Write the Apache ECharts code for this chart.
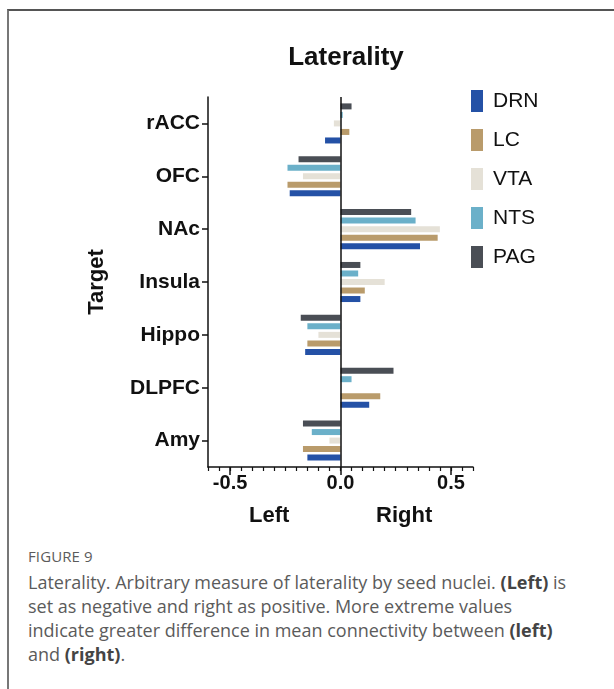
<!DOCTYPE html>
<html>
<head>
<meta charset="utf-8">
<script src="https://cdn.jsdelivr.net/npm/echarts@6/dist/echarts.min.js"></script>
<style>
  html, body { margin: 0; padding: 0; background: #fff; }
  #page { position: relative; width: 614px; height: 689px; overflow: hidden; }
  #frame { position: absolute; left: 7px; top: 9px; width: 620px; height: 700px;
           border-top: 2px solid #555; border-left: 2px solid #777; }
  #chart { position: absolute; left: 0; top: 0; width: 614px; height: 540px; }
  #caption { position: absolute; left: 28px; top: 546px; width: 586px;
             font-family: "Open Sans", Lato, sans-serif; color: #5b5b5b; }
  #caption .fig { font-size: 15px; letter-spacing: 0.1px; margin-bottom: 4px; }
  #caption .txt { font-size: 18px; line-height: 24px; }
  #caption b { color: #444; font-weight: 700; }
</style>
</head>
<body>
<div id="page">
  <div id="frame"></div>
  <div id="chart"></div>
  <div id="caption">
    <div class="fig">FIGURE 9</div>
    <div class="txt">Laterality. Arbitrary measure of laterality by seed nuclei. <b>(Left)</b> is<br>set as negative and right as positive. More extreme values<br>indicate greater difference in mean connectivity between <b>(left)</b><br>and <b>(right)</b>.</div>
  </div>
</div>
<script>
// 靶区（从上到下）
var targets = ["rACC", "OFC", "NAc", "Insula", "Hippo", "DLPFC", "Amy"];

// 各种子核的偏侧性数值
var drn = [-0.07, -0.23, 0.36, 0.09, -0.16, 0.13, -0.15];
var lc  = [0.04, -0.24, 0.44, 0.11, -0.15, 0.18, -0.17];
var vta = [-0.03, -0.17, 0.45, 0.20, -0.10, 0, -0.05];
var nts = [0.01, -0.24, 0.34, 0.08, -0.15, 0.05, -0.13];
var pag = [0.05, -0.19, 0.32, 0.09, -0.18, 0.24, -0.17];

var seeds = ["DRN", "LC", "VTA", "NTS", "PAG"];
var colors = ["#2451a6", "#b99b6b", "#e5e1d7", "#6bb0c9", "#4a4e55"];
var majorTicks = [-0.5, 0, 0.5];

var font = "'Liberation Sans', Arial, sans-serif";
var myChart = echarts.init(document.getElementById("chart"));

var seriesData = [drn, lc, vta, nts, pag];
// 每组内 PAG 在最上，所以倒序添加
var series = [];
for (var i = seeds.length - 1; i >= 0; i--) {
	series.push({
		name: seeds[i],
		type: "bar",
		xAxisIndex: 0,
		data: seriesData[i],
		barWidth: 6,
		barGap: "42%",
		itemStyle: { color: colors[i] },
		emphasis: { disabled: true }
	});
}

// 零线
series[0].markLine = {
	silent: true,
	symbol: "none",
	label: { show: false },
	lineStyle: { color: "#111", width: 1.5, type: "solid" },
	data: [{ xAxis: 0 }]
};

var option = {
	animation: false,
	title: {
		text: "Laterality",
		left: 341,
		top: 40,
		textAlign: "center",
		textStyle: { fontFamily: font, fontSize: 26, fontWeight: "bold", color: "#111" }
	},
	legend: {
		data: seeds,
		orient: "vertical",
		left: 466,
		top: 85,
		itemWidth: 12,
		itemHeight: 22,
		itemGap: 17,
		icon: "rect",
		selectedMode: false,
		textStyle: { fontFamily: font, fontSize: 21, color: "#111", padding: [0, 0, 0, 5] }
	},
	grid: { left: 208, right: 141, top: 97, height: 370 },
	xAxis: [
		{
			type: "value",
			min: -0.6,
			max: 0.6,
			interval: 0.05,
			position: "bottom",
			splitLine: { show: false },
			axisLine: { show: true, lineStyle: { color: "#111", width: 1.5 } },
			axisTick: { show: true, length: 4, lineStyle: { color: "#111", width: 1.2 } },
			axisLabel: { show: false }
		},
		{
			type: "value",
			min: -0.6,
			max: 0.6,
			position: "bottom",
			splitLine: { show: false },
			axisLine: { show: false },
			axisTick: { show: true, length: 8, customValues: majorTicks, lineStyle: { color: "#111", width: 1.5 } },
			axisLabel: {
				show: true,
				customValues: majorTicks,
				margin: 6,
				formatter: function (v) { return v.toFixed(1); },
				fontFamily: font, fontSize: 20, fontWeight: "bold", color: "#111"
			}
		}
	],
	yAxis: {
		type: "category",
		data: targets,
		inverse: true,
		name: "Target",
		nameLocation: "middle",
		nameRotate: 90,
		nameGap: 100,
		nameTextStyle: { fontFamily: font, fontSize: 22, fontWeight: "bold", color: "#111" },
		axisLine: { show: true, onZero: false, lineStyle: { color: "#111", width: 1.5 } },
		axisTick: { show: true, alignWithLabel: true, length: 6, lineStyle: { color: "#111", width: 1.5 } },
		axisLabel: { margin: 8, fontFamily: font, fontSize: 21, fontWeight: "bold", color: "#111" }
	},
	graphic: [
		{ type: "text", left: 249, top: 505, style: { text: "Left", font: "bold 22px " + font, fill: "#111" } },
		{ type: "text", left: 376, top: 505, style: { text: "Right", font: "bold 22px " + font, fill: "#111" } }
	],
	series: series
};

myChart.setOption(option);
</script>
</body>
</html>
